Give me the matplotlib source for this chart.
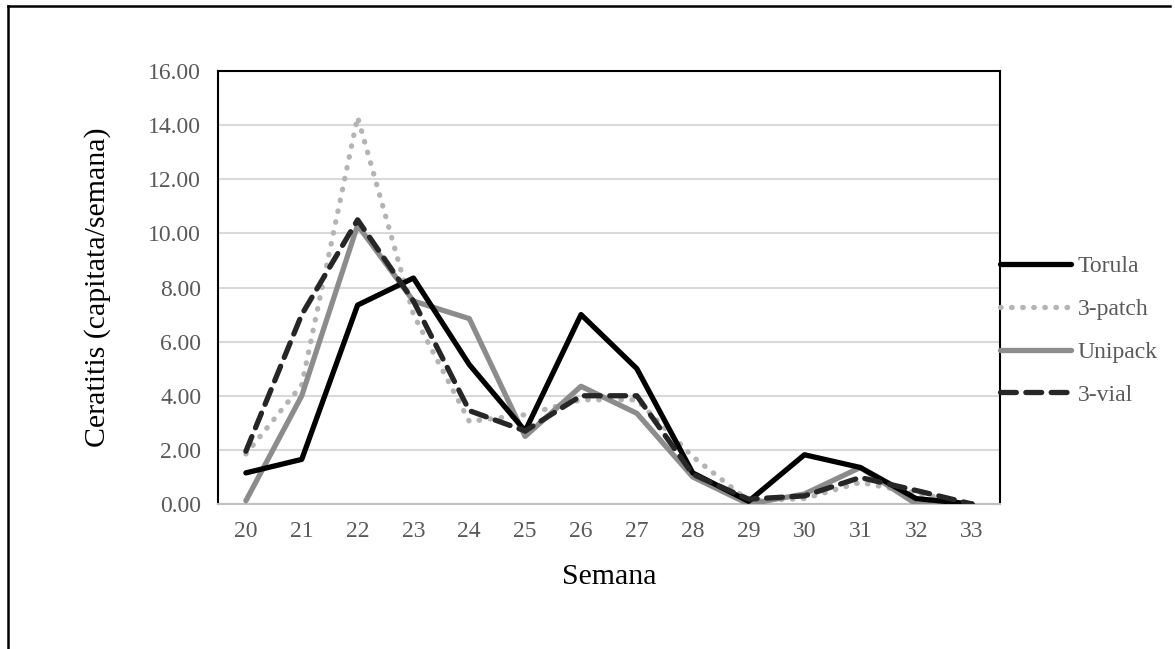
import matplotlib
matplotlib.use('Agg')
import matplotlib.pyplot as plt
from matplotlib.lines import Line2D

weeks = ['20', '21', '22', '23', '24', '25', '26', '27', '28', '29', '30', '31', '32', '33']
torula = [1.15, 1.65, 7.35, 8.35, 5.15, 2.7, 7.0, 5.0, 1.15, 0.1, 1.82, 1.35, 0.2, 0.0]
patch3 = [1.85, 4.4, 14.3, 7.0, 3.05, 3.3, 3.85, 3.85, 1.75, 0.12, 0.2, 0.8, 0.4, 0.0]
unipack = [0.12, 4.0, 10.3, 7.5, 6.85, 2.5, 4.35, 3.35, 1.0, 0.0, 0.37, 1.35, 0.0, 0.0]
vial3 = [1.95, 7.0, 10.5, 7.5, 3.45, 2.7, 4.0, 4.0, 1.1, 0.18, 0.3, 0.98, 0.5, 0.0]
yticks = [0, 2, 4, 6, 8, 10, 12, 14, 16]

plt.rcParams['font.family'] = ['Liberation Serif', 'DejaVu Serif']

fig = plt.figure(figsize=(11.75, 6.49), dpi=100)
ax = fig.add_axes([0.1855, 0.2234, 0.6655, 0.6672])

x = list(range(len(weeks)))
ax.plot(x, torula, color='black', lw=3.8, label='Torula', solid_capstyle='round', zorder=5)
ax.plot(x, patch3, color='#b4b4b4', lw=3.8, linestyle=(0, (0.1, 2.0)),
        dash_capstyle='round', label='3-patch', zorder=3)
ax.plot(x, unipack, color='#8c8c8c', lw=3.8, label='Unipack', solid_capstyle='round', zorder=4)
ax.plot(x, vial3, color='#262626', lw=3.8, linestyle=(0, (3.0, 1.8)),
        dash_capstyle='round', label='3-vial', zorder=6)

ax.set_xlim(-0.5, len(weeks) - 0.5)
ax.set_ylim(0, 16)
ax.set_xticks(x)
ax.set_xticklabels(weeks)
ax.set_yticks(yticks)
ax.set_yticklabels(['%.2f' % v for v in yticks])
ax.tick_params(length=0, labelsize=17, colors='#595959')
ax.tick_params(axis='x', pad=12)
ax.tick_params(axis='y', pad=12)
ax.yaxis.grid(True, color='#d9d9d9', lw=1.5)
ax.set_axisbelow(True)
for side in ['left', 'top', 'right']:
    ax.spines[side].set_color('black')
    ax.spines[side].set_linewidth(1.5)
ax.spines['bottom'].set_color('#bfbfbf')
ax.spines['bottom'].set_linewidth(1.5)

ax.set_xlabel('Semana', fontsize=21.5, color='black', labelpad=16)
ax.set_ylabel('Ceratitis (capitata/semana)', fontsize=21.5, color='black', labelpad=27)

leg = ax.legend(loc='center left', bbox_to_anchor=(1.0, 0.40), frameon=False,
                fontsize=17, handlelength=3.0, handletextpad=0.3,
                borderpad=0, borderaxespad=0, labelspacing=0.9)
for t in leg.get_texts():
    t.set_color('#595959')

# outer chart border (top and left only visible)
fig.add_artist(Line2D([0.0068, 0.0068], [0, 0.9908], color='black', lw=1.8,
                      transform=fig.transFigure))
fig.add_artist(Line2D([0.0068, 0.996], [0.9908, 0.9908], color='black', lw=1.8,
                      transform=fig.transFigure))

fig.savefig('out.png', dpi=100)
